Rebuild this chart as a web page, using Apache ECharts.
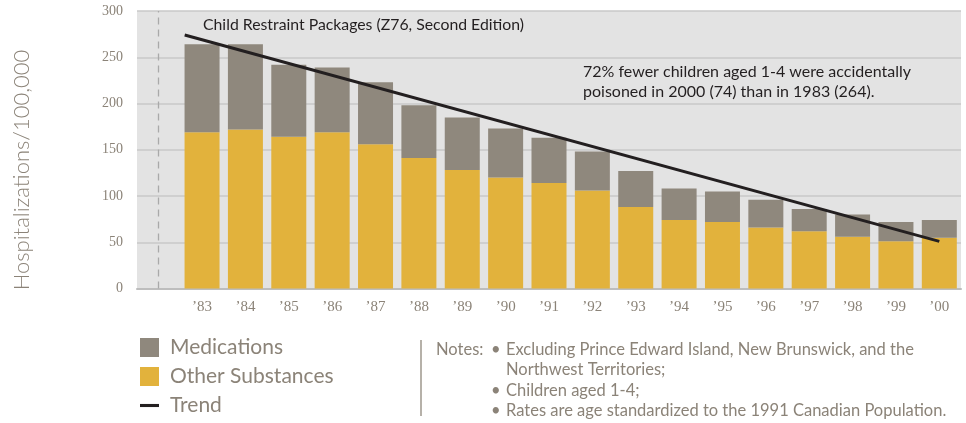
<!DOCTYPE html>
<html>
<head>
<meta charset="utf-8">
<script src="https://cdn.jsdelivr.net/npm/echarts@6/dist/echarts.min.js"></script>
<style>
html,body{margin:0;padding:0;background:#fff;}
#chart{width:966px;height:423px;}
</style>
</head>
<body>
<div id="chart"></div>
<script>
// ---- data ----
var categories = ['', '\u201983', '\u201984', '\u201985', '\u201986', '\u201987', '\u201988', '\u201989', '\u201990', '\u201991', '\u201992', '\u201993', '\u201994', '\u201995', '\u201996', '\u201997', '\u201998', '\u201999', '\u201900'];
var otherSubstances = [null, 169, 172, 164, 169, 156, 141, 128, 120, 114, 106, 88, 74, 72, 66, 62, 56, 51, 55];
var medications = [null, 95, 92, 78, 70, 67, 57, 57, 53, 49, 42, 39, 34, 33, 30, 24, 24, 21, 19];
var trendYears = [1982.6, 2000];
var trendValues = [274, 51];
var yTicks = [0, 50, 100, 150, 200, 250, 300];

var gray = '#8b8378';
var font = 'Lato';

var chart = echarts.init(document.getElementById('chart'));
chart.setOption({
  animation: false,
  backgroundColor: '#ffffff',
  grid: {
    left: 137, right: 5, top: 11, bottom: 134.5,
    show: true, backgroundColor: '#e3e3e3', borderWidth: 0
  },
  xAxis: [{
    type: 'category',
    data: categories,
    axisLine: { show: true, lineStyle: { color: '#bdbdbd', width: 2 } },
    axisTick: { show: false },
    axisLabel: { color: gray, fontFamily: 'Liberation Serif', fontSize: 15, margin: 11 },
    splitLine: { show: false }
  }, {
    type: 'value',
    min: 1981.5, max: 2000.5,
    show: false,
    splitLine: { show: false }
  }],
  yAxis: {
    type: 'value',
    min: 0, max: 300, interval: 50,
    axisLine: { show: false },
    axisTick: { show: false },
    axisLabel: { color: gray, fontFamily: 'Liberation Serif', fontSize: 14, margin: 14,
      formatter: function (v) { return yTicks.indexOf(v) >= 0 ? String(v) : ''; } },
    splitLine: { show: true, lineStyle: { color: '#c9c9c9', width: 1.5 } }
  },
  legend: {
    orient: 'vertical',
    left: 140, top: 337,
    padding: 0,
    itemWidth: 19, itemHeight: 19, itemGap: 8,
    textStyle: { color: gray, fontFamily: font, fontSize: 21, lineHeight: 19, padding: [0, 0, 0, 6] },
    data: [
      { name: 'Medications', icon: 'rect' },
      { name: 'Other Substances', icon: 'rect' },
      { name: 'Trend', icon: 'path://M0,0H16V2.6H0Z' }
    ]
  },
  series: [{
    name: 'Other Substances',
    type: 'bar',
    stack: 'total',
    barWidth: 35,
    itemStyle: { color: '#e2b23c' },
    data: otherSubstances,
    markLine: {
      silent: true,
      symbol: 'none',
      label: { show: false },
      lineStyle: { color: '#a9a9a9', type: [7, 5], width: 1.3 },
      data: [{ xAxis: 0 }]
    }
  }, {
    name: 'Medications',
    type: 'bar',
    stack: 'total',
    barWidth: 35,
    itemStyle: { color: '#8f887d' },
    data: medications
  }, {
    name: 'Trend',
    type: 'line',
    xAxisIndex: 1,
    showSymbol: false,
    symbol: 'none',
    itemStyle: { color: '#231f20' },
    lineStyle: { color: '#231f20', width: 3 },
    data: trendYears.map(function (y, i) { return [y, trendValues[i]]; })
  }],
  graphic: [
    { type: 'text', rotation: Math.PI / 2, x: 22, y: 170,
      style: { text: 'Hospitalizations/100,000', fill: gray, font: '300 22px ' + font, align: 'center', verticalAlign: 'middle' } },
    { type: 'text', x: 203, y: 25,
      style: { text: 'Child Restraint Packages (Z76, Second Edition)', fill: '#231f20', font: '15.8px ' + font, verticalAlign: 'middle' } },
    { type: 'text', x: 583, y: 62,
      style: { text: '72% fewer children aged 1-4 were accidentally\npoisoned in 2000 (74) than in 1983 (264).', fill: '#231f20', font: '16px ' + font, lineHeight: 20 } },
    { type: 'line', shape: { x1: 421, y1: 340, x2: 421, y2: 416 }, style: { stroke: '#9e978d', lineWidth: 1.5 } },
    { type: 'text', x: 436, y: 339,
      style: { text: 'Notes:', fill: gray, font: '16.5px ' + font, lineHeight: 20.5 } },
    { type: 'text', x: 491, y: 339,
      style: { text: '\u2022\n\n\u2022\n\u2022', fill: gray, font: '16.5px ' + font, lineHeight: 20.5 } },
    { type: 'text', x: 506, y: 339,
      style: { text: 'Excluding Prince Edward Island, New Brunswick, and the\nNorthwest Territories;\nChildren aged 1-4;\nRates are age standardized to the 1991 Canadian Population.', fill: gray, font: '16.5px ' + font, lineHeight: 20.5 } }
  ]
});
</script>
</body>
</html>
